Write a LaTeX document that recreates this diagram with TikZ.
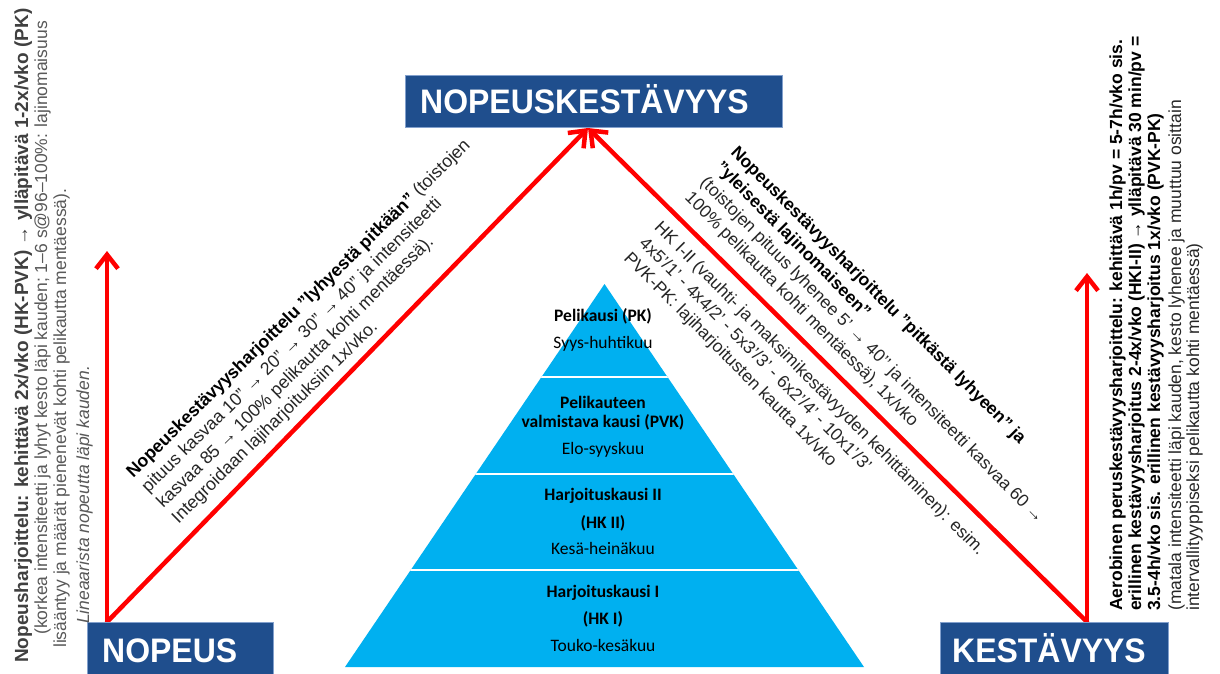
\documentclass[tikz,border=0pt]{standalone}
\usepackage{fontspec}
\setmainfont{Liberation Sans}
\newfontfamily\calibri{Carlito}
\newfontfamily\titlefont{Liberation Sans}[FakeStretch=0.94]
\usetikzlibrary{arrows.meta}
\definecolor{boxblue}{RGB}{31,78,141}
\definecolor{boxedge}{RGB}{130,160,205}
\definecolor{pyrblue}{RGB}{0,176,240}
\definecolor{arrowred}{RGB}{255,0,0}
\definecolor{txtdark}{RGB}{38,38,38}
\definecolor{txtgray}{RGB}{89,89,89}
\definecolor{txtmid}{RGB}{64,64,64}

\begin{document}
\begin{tikzpicture}[x=1pt,y=-1pt,
  titlebox/.style={draw=boxedge, line width=0.8pt, fill=boxblue, inner sep=0pt, anchor=north west},
  titletext/.style={text=white, font=\titlefont\fontsize{34}{38}\selectfont\bfseries, inner sep=0pt, anchor=base west},
  growth/.style={draw=arrowred, line width=4.5pt, line cap=round, line join=round,
    -{Straight Barb[length=14pt,width=22pt]}},
  diagtext/.style={text=txtdark, font=\fontsize{17.5}{21.5}\selectfont, inner sep=0pt, align=left, anchor=north west},
  vertline/.style={font=\fontsize{17.5}{19}\selectfont, inner sep=0pt, rotate=90, anchor=base west},
  layer/.style={font=\calibri\fontsize{17.5}{20}\selectfont, text=black, inner sep=0pt, anchor=base},
]
\useasboundingbox (0,0) rectangle (1220,673);
\fill[white] (0,0) rectangle (1220,673);

% training pyramid
\coordinate (ptop) at (604.5,284);
\coordinate (pleft) at (345,667);
\coordinate (pright) at (864,667);
\fill[pyrblue] (ptop) -- (pright) -- (pleft) -- cycle;
\begin{scope}
  \clip (ptop) -- (pright) -- (pleft) -- cycle;
  \foreach \yy in {377,474,570}
    \draw[white, line width=2.5pt] (300,\yy) -- (900,\yy);
\end{scope}

\node[layer] (pk1) at (603,321.5) {\bfseries Pelikausi (PK)};
\node[layer] (pk2) at (603,348.5) {Syys-huhtikuu};
\node[layer] (pvk1) at (603,408.5) {\bfseries Pelikauteen};
\node[layer] (pvk2) at (603,427.5) {\bfseries valmistava kausi (PVK)};
\node[layer] (pvk3) at (603,454.5) {Elo-syyskuu};
\node[layer] (hkb1) at (603,500.5) {\bfseries Harjoituskausi II};
\node[layer] (hkb2) at (603,528.5) {\bfseries (HK II)};
\node[layer] (hkb3) at (603,554.5) {Kesä-heinäkuu};
\node[layer] (hka1) at (603,597.5) {\bfseries Harjoituskausi I};
\node[layer] (hka2) at (603,624.5) {\bfseries (HK I)};
\node[layer] (hka3) at (603,651.5) {Touko-kesäkuu};

% red development arrows
\coordinate (nv) at (107,622);
\coordinate (kv) at (1087,622);
\coordinate (apex) at (588,128);
\coordinate (ntip) at (107,251);
\coordinate (ktip) at (1087,273);
\draw[growth] (nv) -- (ntip);
\draw[growth] (nv) -- (apex);
\draw[growth] (kv) -- (apex);
\draw[growth] (kv) -- (ktip);

% title boxes
\node[titlebox, minimum width=377pt, minimum height=52pt] (topbox) at (405,75) {};
\node[titletext] (toptxt) at (420,113) {NOPEUSKESTÄVYYS};
\node[titlebox, minimum width=186pt, minimum height=52pt] (nopbox) at (87,622) {};
\node[titletext] (noptxt) at (102,662) {NOPEUS};
\node[titlebox, minimum width=228pt, minimum height=52pt] (kesbox) at (940,622) {};
\node[titletext] (kestxt) at (952,662) {KESTÄVYYS};

% diagonal notes
\node[diagtext, font=\fontsize{17.75}{21.5}\selectfont, rotate=44.5] (ldiag) at (124,469)
  {\textbf{\color{black}Nopeuskestävyysharjoittelu ”lyhyestä pitkään”} (toistojen\\
   pituus kasvaa 10” → 20” → 30” → 40” ja intensiteetti\\
   kasvaa 85 → 100\% pelikautta kohti mentäessä).\\
   Integroidaan lajiharjoituksiin 1x/vko.};
\node[diagtext, rotate=-45.2] (rdiag) at (739,144)
  {\textbf{\color{black}Nopeuskestävyysharjoittelu ”pitkästä lyhyeen” ja}\\
   \textbf{\color{black}”yleisestä lajinomaiseen”}\\
   (toistojen pituus lyhenee 5’ → 40’’ ja intensiteetti kasvaa 60 →\\
   100\% pelikautta kohti mentäessä), 1x/vko\\[21.5pt]
   HK I-II (vauhti- ja maksimikestävyyden kehittäminen): esim.\\
   4x5’/1’ - 4x4/2’ - 5x3’/3’ - 6x2’/4’ - 10x1’/3’\\
   PVK-PK: lajiharjoitusten kautta 1x/vko};

% vertical notes, left
\node[vertline, text=txtmid, font=\fontsize{19}{19}\selectfont] (lv1) at (28,663)
  {\bfseries Nopeusharjoittelu: kehittävä 2x/vko (HK-PVK) → ylläpitävä 1-2x/vko (PK)};
\node[vertline, text=txtgray] (lv2) at (47,635)
  {(korkea intensiteetti ja lyhyt kesto läpi kauden; 1–6 s@96–100\%: lajinomaisuus};
\node[vertline, text=txtgray] (lv3) at (66,648)
  {lisääntyy ja määrät pienenevät kohti pelikautta mentäessä).};
\node[vertline, text=txtgray] (lv4) at (89,624)
  {\itshape Lineaarista nopeutta läpi kauden.};

% vertical notes, right
\node[vertline, text=black] (rv1) at (1122,611)
  {\bfseries Aerobinen peruskestävyysharjoittelu: kehittävä 1h/pv = 5-7h/vko sis.};
\node[vertline, text=black] (rv2) at (1141,611)
  {\bfseries erillinen kestävyysharjoitus 2-4x/vko (HKI-II) → ylläpitävä 30 min/pv =};
\node[vertline, text=black] (rv3) at (1160,611)
  {\bfseries 3.5-4h/vko sis. erillinen kestävyysharjoitus 1x/vko (PVK-PK)};
\node[vertline, text=txtdark] (rv4) at (1181,611)
  {(matala intensiteetti läpi kauden, kesto lyhenee ja muuttuu osittain};
\node[vertline, text=txtdark] (rv5) at (1199,611)
  {intervallityyppiseksi pelikautta kohti mentäessä)};
\end{tikzpicture}
\end{document}
